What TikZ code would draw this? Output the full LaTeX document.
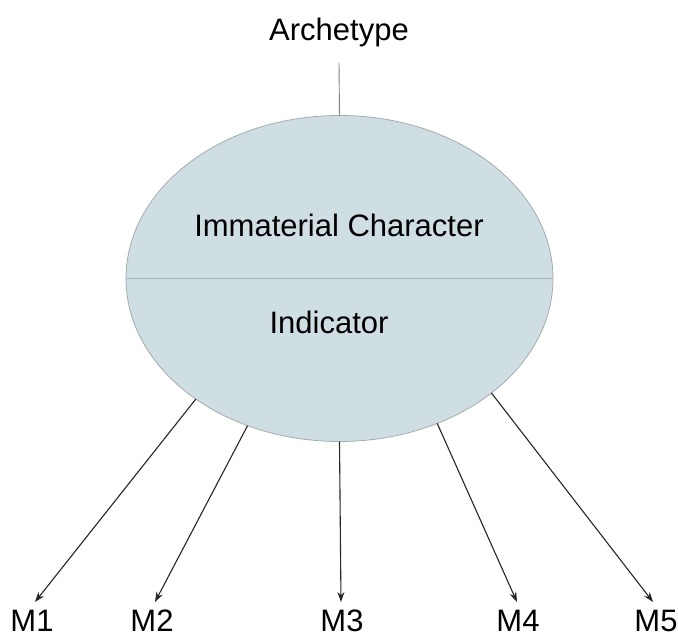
\documentclass[tikz,border=0pt]{standalone}
\usepackage{fontspec}
\setmainfont{Liberation Sans}
\usetikzlibrary{arrows.meta,shapes.geometric}
\definecolor{ellfill}{HTML}{CFDEE3}
\definecolor{ellline}{HTML}{A3ADB0}
\definecolor{divline}{HTML}{A6B6BA}
\begin{document}
\begin{tikzpicture}[x=1pt,y=-1pt,
  lbl/.style={font=\fontsize{31}{37}\selectfont, inner sep=0pt},
  arr/.style={draw=black!85, line width=1.1pt, -{Stealth[length=10pt,width=7pt]}}]
\useasboundingbox (0,0) rectangle (678,639);
\node[ellipse, draw=ellline, fill=ellfill, line width=0.8pt, minimum width=427pt, minimum height=326pt, inner sep=0pt, outer sep=0pt] (e) at (339.5,278.5) {};
\draw[divline, line width=1pt] (e.west) -- (e.east);
\node[lbl] (imm) at (339,225) {Immaterial Character};
\node[lbl] (ind) at (329,322) {Indicator};
\node[lbl] (arch) at (339,32) {Archetype};
\coordinate (atop) at (339,63);
\draw[gray, line width=0.9pt] (atop) -- (e.north);
\node[lbl] (m1) at (32,621) {M1};
\node[lbl] (m2) at (152,621) {M2};
\node[lbl] (m3) at (342,621) {M3};
\node[lbl] (m4) at (518,621) {M4};
\node[lbl] (m5) at (656,621) {M5};
\coordinate (t1) at (35,602);
\coordinate (t2) at (155,602);
\coordinate (t3) at (341,602);
\coordinate (t4) at (517,602);
\coordinate (t5) at (653,602);
\draw[arr] (e.-140) -- (t1);
\draw[arr] (e.-122) -- (t2);
\draw[arr] (e.-90) -- (t3);
\draw[arr] (e.-56.4) -- (t4);
\draw[arr] (e.-37.6) -- (t5);
\end{tikzpicture}
\end{document}
